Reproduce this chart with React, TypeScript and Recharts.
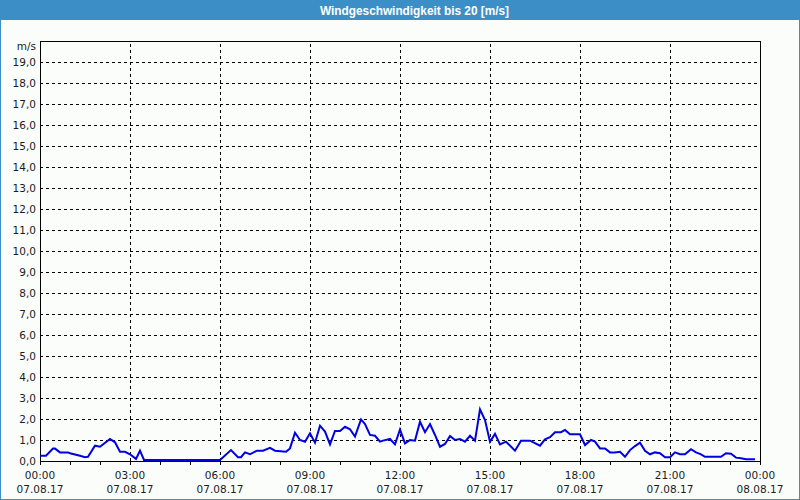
import React from "react";
import {
  LineChart,
  Line,
  XAxis,
  YAxis,
  CartesianGrid,
  ReferenceLine,
  ReferenceArea,
} from "recharts";

// minutes since 07.08.17 00:00
const times = [
  0, 12, 26, 30, 40, 56, 60, 80, 90, 96, 110, 120, 140, 150, 160, 170, 180, 192, 200, 208,
  360, 382, 396, 402, 410, 420, 434, 446, 460, 470, 492, 500, 510, 520, 530, 540, 550, 560,
  570, 580, 590, 600, 610, 620, 630, 642, 650, 660, 670, 680, 686, 700, 710, 720, 730, 740,
  750, 760, 770, 780, 790, 800, 810, 820, 830, 840, 850, 860, 870, 880, 890, 900, 910, 920,
  932, 950, 962, 980, 1000, 1010, 1020, 1030, 1042, 1050, 1060, 1080, 1090, 1102, 1110, 1120,
  1130, 1140, 1150, 1160, 1170, 1180, 1190, 1200, 1210, 1220, 1230, 1240, 1250, 1260, 1270,
  1280, 1290, 1302, 1312, 1322, 1330, 1362, 1372, 1382, 1392, 1402, 1412, 1430,
];

// wind speed in m/s
const speeds = [
  0.25, 0.25, 0.59, 0.59, 0.41, 0.41, 0.37, 0.25, 0.18, 0.2, 0.73, 0.68, 1.05, 0.89, 0.44, 0.44, 0.32, 0.1, 0.49, 0.05,
  0.05, 0.52, 0.18, 0.18, 0.41, 0.32, 0.49, 0.49, 0.63, 0.49, 0.44, 0.6, 1.35, 1.0, 0.92, 1.32, 0.87, 1.68,
  1.4, 0.79, 1.43, 1.43, 1.63, 1.51, 1.16, 1.98, 1.76, 1.24, 1.2, 0.92, 0.97, 1.05, 0.79, 1.5, 0.84, 1.0,
  0.97, 1.87, 1.37, 1.76, 1.24, 0.68, 0.81, 1.19, 1.0, 1.05, 0.92, 1.2, 0.97, 2.46, 1.95, 0.92, 1.29, 0.79,
  0.92, 0.49, 0.97, 0.97, 0.73, 1.03, 1.13, 1.37, 1.37, 1.48, 1.27, 1.27, 0.76, 1.0, 0.92, 0.6,
  0.6, 0.41, 0.41, 0.44, 0.2, 0.52, 0.71, 0.87, 0.49, 0.32, 0.41, 0.37, 0.18, 0.18, 0.41,
  0.32, 0.32, 0.56, 0.41, 0.32, 0.2, 0.2, 0.37, 0.35, 0.16, 0.13, 0.08, 0.08,
];

const xTicks = [0, 60, 120, 180, 240, 300, 360, 420, 480, 540, 600, 660, 720, 780, 840, 900, 960, 1020, 1080, 1140, 1200, 1260, 1320, 1380, 1440];
const xGridLines = [180, 360, 540, 720, 900, 1080, 1260];
const xTimeLabels = ["00:00", "03:00", "06:00", "09:00", "12:00", "15:00", "18:00", "21:00", "00:00"];
const xDateLabels = ["07.08.17", "07.08.17", "07.08.17", "07.08.17", "07.08.17", "07.08.17", "07.08.17", "07.08.17", "08.08.17"];
const yTicks = [0, 1, 2, 3, 4, 5, 6, 7, 8, 9, 10, 11, 12, 13, 14, 15, 16, 17, 18, 19, 20];
const yUnit = "m/s";
const title = "Windgeschwindigkeit bis 20 [m/s]";

const data = times.map((t, i) => ({ t, v: speeds[i] }));

const FONT = "'DejaVu Sans', Verdana, sans-serif";
const TEXT = "#1c1c1c";
const AXIS_Y = 441;

const XTick = (props: any) => {
  const { x, payload } = props;
  const v = payload.value as number;
  const idx = v % 180 === 0 ? v / 180 : -1;
  return (
    <g>
      <line x1={x} x2={x} y1={AXIS_Y} y2={AXIS_Y + 4} stroke="#000" shapeRendering="crispEdges" />
      {idx >= 0 && (
        <>
          <text x={x} y={AXIS_Y + 14} textAnchor="middle" dominantBaseline="central" fontFamily={FONT} fontSize={10.5} fill={TEXT}>
            {xTimeLabels[idx]}
          </text>
          <text x={x} y={AXIS_Y + 28} textAnchor="middle" dominantBaseline="central" fontFamily={FONT} fontSize={10.5} fill={TEXT}>
            {xDateLabels[idx]}
          </text>
        </>
      )}
    </g>
  );
};

const YTick = (props: any) => {
  const { y, payload } = props;
  const v = payload.value as number;
  const label = v === 20 ? yUnit : v.toFixed(1).replace(".", ",");
  return (
    <text x={36} y={v === 20 ? y + 5 : y} textAnchor="end" dominantBaseline="central" fontFamily={FONT} fontSize={10.5} fill={TEXT}>
      {label}
    </text>
  );
};

export default function App() {
  return (
    <div style={{ position: "absolute", left: 0, top: 0, width: 800, height: 500, background: "#fafdfa", overflow: "hidden" }}>
      <div style={{ position: "absolute", left: 0, top: 0, width: 800, height: 20, background: "#3c8fc6" }}>
        <svg width={800} height={20} style={{ display: "block" }}>
          <text x={320} y={10.5} dominantBaseline="central" fontFamily="'Liberation Sans', Arial, sans-serif" fontWeight="bold" fontSize={12} fill="#ffffff" textLength={189} lengthAdjust="spacingAndGlyphs">
            {title}
          </text>
        </svg>
      </div>
      <div style={{ position: "absolute", left: 0, top: 20 }}>
        <LineChart width={800} height={480} data={data} margin={{ top: 21, right: 40, bottom: 0, left: 0 }}>
          <CartesianGrid vertical={false} stroke="#000" strokeDasharray="3 3" shapeRendering="crispEdges" />
          <XAxis
            dataKey="t"
            type="number"
            domain={[0, 1440]}
            ticks={xTicks}
            interval={0}
            height={39}
            axisLine={false}
            tickLine={false}
            tick={<XTick />}
          />
          <YAxis
            type="number"
            domain={[0, 20]}
            ticks={yTicks}
            interval={0}
            width={40}
            axisLine={false}
            tickLine={false}
            tick={<YTick />}
          />
          {xGridLines.map((g) => (
            <ReferenceLine key={g} x={g} stroke="#000" strokeDasharray="3 3" shapeRendering="crispEdges" />
          ))}
          <ReferenceArea x1={0} x2={1440} y1={0} y2={20} fill="none" stroke="#000" strokeWidth={1} fillOpacity={0} shapeRendering="crispEdges" />
          <Line type="linear" dataKey="v" stroke="#0000e0" strokeWidth={2} dot={false} isAnimationActive={false} />
        </LineChart>
      </div>
      <div style={{ position: "absolute", left: 0, top: 0, width: 800, height: 500, boxSizing: "border-box", border: "1px solid #3c8fc6", pointerEvents: "none" }} />
    </div>
  );
}
